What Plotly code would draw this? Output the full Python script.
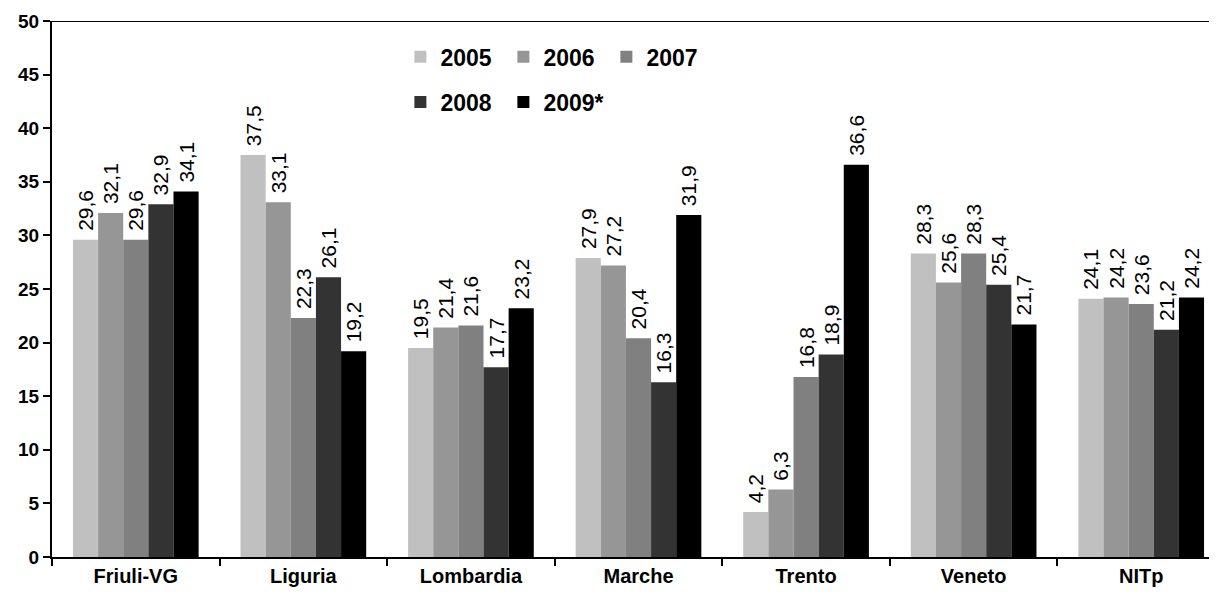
import plotly.graph_objects as go

categories = ["Friuli-VG", "Liguria", "Lombardia", "Marche", "Trento", "Veneto", "NITp"]
years = ["2005", "2006", "2007", "2008", "2009*"]
v2005 = [29.6, 37.5, 19.5, 27.9, 4.2, 28.3, 24.1]
v2006 = [32.1, 33.1, 21.4, 27.2, 6.3, 25.6, 24.2]
v2007 = [29.6, 22.3, 21.6, 20.4, 16.8, 28.3, 23.6]
v2008 = [32.9, 26.1, 17.7, 16.3, 18.9, 25.4, 21.2]
v2009 = [34.1, 19.2, 23.2, 31.9, 36.6, 21.7, 24.2]
series = [v2005, v2006, v2007, v2008, v2009]
colors = ["#C0C0C0", "#969696", "#808080", "#333333", "#000000"]
yticks = [0, 5, 10, 15, 20, 25, 30, 35, 40, 45, 50]

FONT = "Liberation Sans, Arial, Helvetica, sans-serif"

fig = go.Figure()
for i, (name, vals, col) in enumerate(zip(years, series, colors)):
    fig.add_trace(go.Bar(
        x=categories, y=vals, name=name,
        marker=dict(color=col, line=dict(width=0)),
        text=[" " + f"{v:.1f}".replace(".", ",") for v in vals],
        textposition="outside", textangle=-90,
        textfont=dict(family=FONT, size=21, color="black"),
        constraintext="none", cliponaxis=False,
        legend="legend" if i < 3 else "legend2",
    ))

legend_common = dict(
    orientation="h", font=dict(family=FONT, size=23, color="black", weight="bold"),
    bgcolor="rgba(0,0,0,0)", entrywidth=58, entrywidthmode="pixels",
    xanchor="left", yanchor="middle", traceorder="normal",
)

fig.update_layout(
    width=1217, height=599,
    margin=dict(l=44, r=0, t=13, b=50, autoexpand=False),
    paper_bgcolor="white", plot_bgcolor="white",
    barmode="group", bargap=0.25, bargroupgap=0,
    font=dict(family=FONT, color="black"),
    legend=dict(x=0.297, y=0.933, **legend_common),
    legend2=dict(x=0.297, y=0.849, **legend_common),
    xaxis=dict(
        type="category", range=[-0.5, 6.5],
        showline=True, linecolor="black", linewidth=2,
        ticks="outside", tickson="boundaries", ticklen=7, tickwidth=2, tickcolor="black",
        tickfont=dict(family=FONT, size=20, color="black", weight="bold"),
        showgrid=False, zeroline=False,
    ),
    yaxis=dict(
        range=[0, 50], tickvals=yticks,
        showline=True, linecolor="black", linewidth=2,
        ticks="outside", ticklen=7, tickwidth=2, tickcolor="black",
        tickfont=dict(family=FONT, size=19, color="black", weight="bold"),
        showgrid=False, zeroline=False,
    ),
    shapes=[dict(type="line", xref="paper", yref="y", x0=0, x1=1, y0=50, y1=50,
                 line=dict(color="black", width=2))],
)

fig.write_html("out.html")
